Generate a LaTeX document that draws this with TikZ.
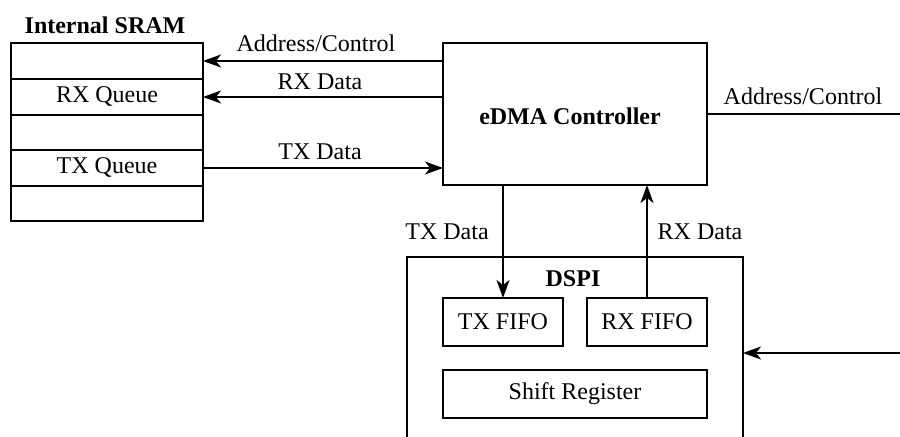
\documentclass[tikz,border=0pt]{standalone}
\usepackage{fontspec}
\setmainfont{Liberation Serif}
\usetikzlibrary{arrows.meta}
\begin{document}
\begin{tikzpicture}[x=0.5pt,y=-0.5pt,
 box/.style={draw, line width=1pt, inner sep=0pt, outer sep=0pt, font=\fontsize{12}{14}\selectfont},
 lbl/.style={font=\fontsize{12}{14}\selectfont, inner sep=0pt},
 blbl/.style={font=\fontsize{12}{14}\selectfont\bfseries, inner sep=0pt},
 arr/.style={line width=1pt, -{Stealth[length=9pt,width=6.5pt,inset=2.5pt]}},
 ln/.style={line width=1pt}]
\useasboundingbox (0,0) rectangle (900,437);
% SRAM
\node[blbl] (sramt) at (105,25) {Internal SRAM};
\node[box, minimum width=96pt, minimum height=18pt] (r1) at (107,61) {};
\node[box, minimum width=96pt, minimum height=18pt] (r2) at (107,97) {RX Queue};
\node[box, minimum width=96pt, minimum height=17.5pt] (r3) at (107,132.5) {};
\node[box, minimum width=96pt, minimum height=18pt] (r4) at (107,168) {TX Queue};
\node[box, minimum width=96pt, minimum height=17.5pt] (r5) at (107,203.5) {};
% eDMA
\node[box, minimum width=132pt, minimum height=71pt] (edma) at (575,114) {};
\node[blbl] (edmal) at (570,116) {eDMA Controller};
% DSPI
\draw[ln] (407,437) |- (743,257) -- (743,437);
\node[blbl] (dspil) at (573,279) {DSPI};
\node[box, minimum width=60pt, minimum height=24pt] (txf) at (503,322) {TX FIFO};
\node[box, minimum width=60pt, minimum height=24pt] (rxf) at (647,322) {RX FIFO};
\node[box, minimum width=132pt, minimum height=24pt] (sr) at (575,394) {Shift Register};
\coordinate (dspie) at (743,353);
\coordinate (inR) at (900,353);
\coordinate (outR) at (900,114);
% connectors
\draw[arr] (edma.west |- r1.east) -- (r1.east);
\draw[arr] (edma.west |- r2.east) -- (r2.east);
\draw[arr] (r4.east) -- (r4.east -| edma.west);
\draw[ln] (edma.east) -- (outR);
\draw[arr] (edma.south -| txf.north) -- (txf.north);
\draw[arr] (rxf.north) -- (rxf.north |- edma.south);
\draw[arr] (inR) -- (dspie);
% labels
\node[lbl] (l1) at (316,43) {Address/Control};
\node[lbl] (l2) at (320,82) {RX Data};
\node[lbl] (l3) at (320,152) {TX Data};
\node[lbl] (l4) at (803,96) {Address/Control};
\node[lbl] (l5) at (447,232) {TX Data};
\node[lbl] (l6) at (700,232) {RX Data};
\end{tikzpicture}
\end{document}
